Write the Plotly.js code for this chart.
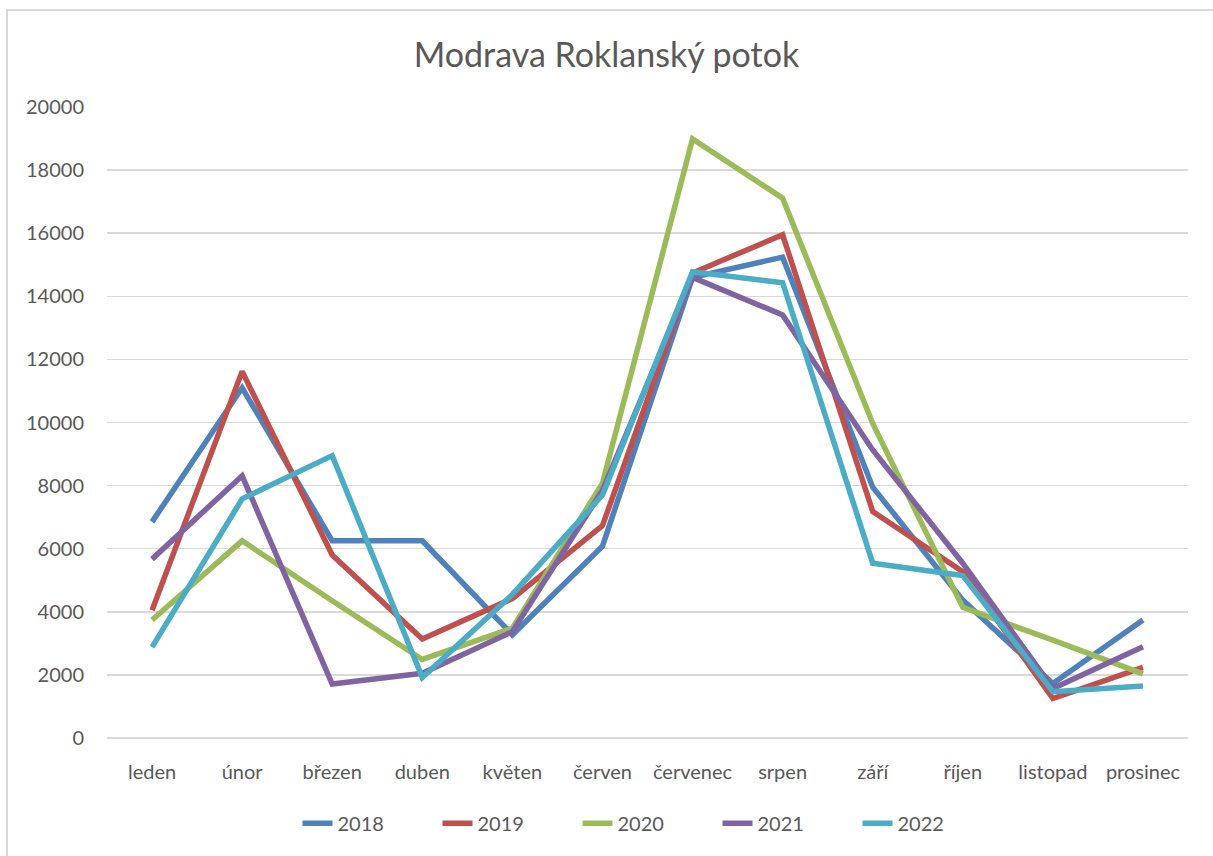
<!DOCTYPE html>
<html>
<head>
<meta charset="utf-8">
<script src="https://cdn.plot.ly/plotly-3.0.1.min.js"></script>
<style>
  html, body { margin: 0; padding: 0; background: #fff; }
  #wrap { position: relative; width: 1213px; height: 856px; overflow: hidden; }
  #chart { width: 1213px; height: 856px; }
  #frame { position: absolute; left: 6px; top: 9px; width: 1220px; height: 860px;
           border-left: 2px solid #d9d9d9; border-top: 2px solid #d9d9d9; pointer-events: none; }
</style>
</head>
<body>
<div id="wrap">
  <div id="chart"></div>
  <div id="frame"></div>
</div>
<script>
const months = ["leden", "únor", "březen", "duben", "květen", "červen", "červenec", "srpen", "září", "říjen", "listopad", "prosinec"];
const y2018 = [6850, 11100, 6250, 6250, 3270, 6080, 14600, 15240, 7950, 4370, 1730, 3740];
const y2019 = [4050, 11620, 5800, 3140, 4420, 6730, 14740, 15950, 7180, 5270, 1250, 2240];
const y2020 = [3740, 6250, 4350, 2490, 3480, 8080, 18990, 17110, 9970, 4140, 3100, 2030];
const y2021 = [5670, 8310, 1710, 2050, 3370, 7850, 14600, 13410, 9130, 5540, 1570, 2890];
const y2022 = [2880, 7580, 8950, 1920, 4550, 7700, 14780, 14430, 5540, 5150, 1470, 1650];
const seriesNames = ["2018", "2019", "2020", "2021", "2022"];
const seriesColors = ["#4f81bd", "#c0504d", "#9bbb59", "#8064a2", "#4bacc6"];

const allY = [y2018, y2019, y2020, y2021, y2022];
const traces = allY.map((ys, i) => ({
  type: "scatter",
  mode: "lines",
  name: seriesNames[i],
  x: months,
  y: ys,
  line: { color: seriesColors[i], width: 5.5, shape: "linear" },
  hoverinfo: "x+y+name"
}));

const layout = {
  width: 1213,
  height: 856,
  paper_bgcolor: "#ffffff",
  plot_bgcolor: "#ffffff",
  margin: { l: 107, r: 25, t: 107, b: 118 },
  font: { family: "Lato, 'Open Sans', sans-serif", color: "#595959", size: 20 },
  title: {
    text: "Modrava Roklanský potok",
    font: { family: "Lato, 'Open Sans', sans-serif", size: 34, color: "#595959" },
    x: 0.5, xanchor: "center",
    y: 0.936, yanchor: "middle"
  },
  xaxis: {
    type: "category",
    range: [-0.5, 11.5],
    showgrid: false,
    zeroline: false,
    showline: false,
    ticks: "",
    ticklabelstandoff: 20,
    tickfont: { size: 20, color: "#595959" },
    automargin: false
  },
  yaxis: {
    range: [0, 20000],
    dtick: 2000,
    tickformat: "d",
    showgrid: true,
    gridcolor: "#d9d9d9",
    gridwidth: 1.5,
    zeroline: true,
    zerolinecolor: "#d9d9d9",
    zerolinewidth: 1.5,
    showline: false,
    ticks: "",
    ticklabelstandoff: 22,
    tickfont: { size: 20, color: "#595959" },
    automargin: false
  },
  showlegend: true,
  legend: {
    orientation: "h",
    x: 0.5, xanchor: "center",
    y: -0.135, yanchor: "middle",
    font: { size: 20, color: "#595959" },
    entrywidth: 95,
    entrywidthmode: "pixels",
    traceorder: "normal"
  }
};

Plotly.newPlot("chart", traces, layout, { displayModeBar: false, staticPlot: true });
</script>
</body>
</html>
